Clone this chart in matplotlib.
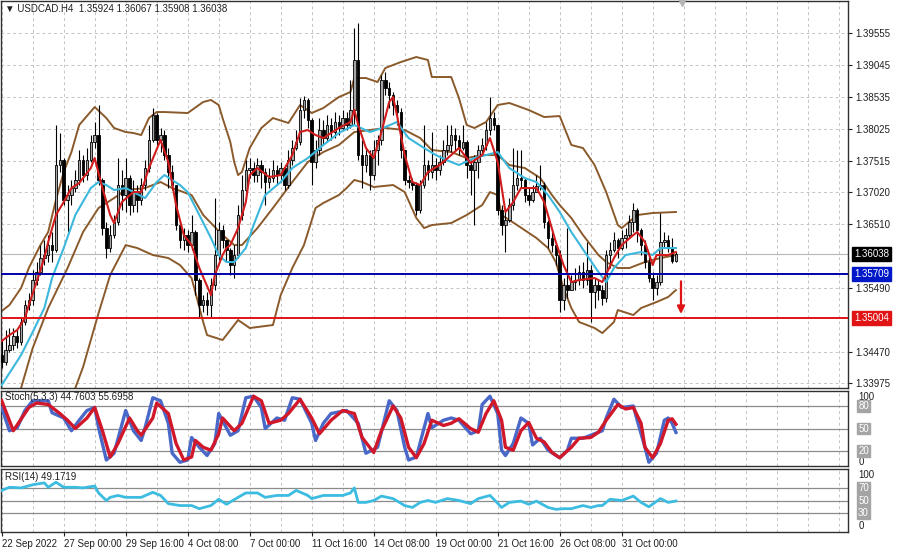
import matplotlib.pyplot as plt

plt.rcParams['font.family'] = ['Liberation Sans', 'DejaVu Sans']

# USDCAD H4 candles, bar 0 = 22 Sep 2022 08:00
closes = [
    1.34309, 1.34500, 1.34580, 1.34723, 1.34628, 1.34947, 1.35218, 1.35298, 1.35616, 1.35744,
    1.35967, 1.36015, 1.36174, 1.36095, 1.37450, 1.37530, 1.36892, 1.36971, 1.37083, 1.37211,
    1.37530, 1.37290, 1.37530, 1.37817, 1.37928, 1.37211, 1.36445, 1.36126, 1.36334, 1.36541,
    1.37131, 1.36971, 1.37242, 1.36812, 1.37019, 1.36892, 1.37131, 1.37402, 1.37849, 1.38247,
    1.37849, 1.37928, 1.37609, 1.37338, 1.37131, 1.36493, 1.36254, 1.36334, 1.36174, 1.36382,
    1.35616, 1.35218, 1.35298, 1.35218, 1.35536, 1.36015, 1.36414, 1.36254, 1.36095, 1.35855,
    1.36015, 1.36653, 1.37051, 1.37370, 1.37402, 1.37290, 1.37450, 1.37338, 1.37179, 1.37242,
    1.37370, 1.37290, 1.37402, 1.37131, 1.37530, 1.37721, 1.37817, 1.38327, 1.38487, 1.38168,
    1.37498, 1.37689, 1.38008, 1.37880, 1.38088, 1.37976, 1.38136, 1.38040, 1.38199, 1.38088,
    1.38327, 1.39124, 1.37609, 1.37450, 1.37609, 1.37290, 1.37689, 1.37849, 1.38805, 1.38677,
    1.38566, 1.38407, 1.38295, 1.37689, 1.37211, 1.37179, 1.37131, 1.36733, 1.37131, 1.37450,
    1.37338, 1.37450, 1.37370, 1.37498, 1.37689, 1.37769, 1.37928, 1.37849, 1.37721, 1.37817,
    1.37450, 1.37370, 1.37498, 1.37689, 1.37769, 1.38008, 1.38199, 1.38088, 1.36733, 1.36493,
    1.36573, 1.36812, 1.37131, 1.37242, 1.37211, 1.36971, 1.36892, 1.37019, 1.37115, 1.37131,
    1.36541, 1.36286, 1.36174, 1.36015, 1.35298, 1.35536, 1.35457, 1.35584, 1.35616, 1.35744,
    1.35616, 1.35776, 1.35425, 1.35536, 1.35457, 1.35329, 1.36015, 1.36095, 1.36254, 1.36126,
    1.36286, 1.36334, 1.36541, 1.36733, 1.36414, 1.36174, 1.35903, 1.35648, 1.35489, 1.35584,
    1.36222, 1.36254, 1.36126, 1.35924, 1.36038,
]
highs = [
    1.34660, 1.34819, 1.34851, 1.34851, 1.34819, 1.35010, 1.35298, 1.35409, 1.35776, 1.35903,
    1.36174, 1.36254, 1.36334, 1.36382, 1.38088, 1.37960, 1.37561, 1.37131, 1.37211, 1.37370,
    1.37689, 1.37609, 1.37721, 1.37928, 1.38136, 1.38407, 1.37242, 1.36541, 1.36493, 1.36653,
    1.37561, 1.37370, 1.37561, 1.37290, 1.37211, 1.37131, 1.37242, 1.37530, 1.38088, 1.38359,
    1.38279, 1.38040, 1.38008, 1.37721, 1.37450, 1.37131, 1.36541, 1.36445, 1.36414, 1.36653,
    1.36414, 1.35648, 1.35377, 1.35425, 1.35648, 1.36923, 1.36541, 1.36493, 1.36254, 1.36126,
    1.36174, 1.36812, 1.37290, 1.37530, 1.37561, 1.37498, 1.37561, 1.37530, 1.37402, 1.37402,
    1.37530, 1.37450, 1.37498, 1.37450, 1.37689, 1.37849, 1.38008, 1.38518, 1.38550, 1.38518,
    1.38199, 1.37849, 1.38199, 1.38168, 1.38247, 1.38199, 1.38295, 1.38247, 1.38327, 1.38295,
    1.38805, 1.39634, 1.39714, 1.37849, 1.37721, 1.37689, 1.37849, 1.37928, 1.38885, 1.38933,
    1.38773, 1.38614, 1.38487, 1.38359, 1.37689, 1.37290, 1.37242, 1.37179, 1.37211, 1.38088,
    1.37530, 1.37976, 1.37561, 1.37609, 1.37849, 1.38088, 1.38088, 1.38040, 1.37928, 1.38088,
    1.37849, 1.37530, 1.37609, 1.37769, 1.37880, 1.38136, 1.38534, 1.38295, 1.38088, 1.36812,
    1.36701, 1.36923, 1.37721, 1.37689, 1.37689, 1.37242, 1.37083, 1.37131, 1.37290, 1.37450,
    1.37179, 1.36573, 1.36382, 1.36174, 1.36095, 1.35648, 1.36445, 1.35696, 1.35808, 1.35855,
    1.35903, 1.36222, 1.35855, 1.35648, 1.35616, 1.35536, 1.36095, 1.36222, 1.36382, 1.36286,
    1.36414, 1.36445, 1.36653, 1.36844, 1.36765, 1.36445, 1.36254, 1.36015, 1.35744, 1.35696,
    1.36685, 1.36382, 1.36334, 1.36286, 1.36067,
]
lows = [
    1.34213, 1.34261, 1.34468, 1.34500, 1.34532, 1.34580, 1.34899, 1.35138, 1.35218, 1.35536,
    1.35696, 1.35855, 1.35903, 1.35903, 1.36063, 1.37338, 1.36812, 1.36382, 1.36812, 1.37019,
    1.37131, 1.37179, 1.37211, 1.37498, 1.37721, 1.37131, 1.36334, 1.35967, 1.36063, 1.36286,
    1.36493, 1.36733, 1.36701, 1.36653, 1.36701, 1.36701, 1.36812, 1.37051, 1.37338, 1.37817,
    1.37769, 1.37657, 1.37530, 1.37083, 1.37051, 1.36414, 1.36126, 1.36095, 1.36063, 1.36095,
    1.35377, 1.35026, 1.35106, 1.35058, 1.35026, 1.35457, 1.35935, 1.36126, 1.35903, 1.35696,
    1.35648, 1.35967, 1.36573, 1.36971, 1.37242, 1.37179, 1.37179, 1.37083, 1.36812, 1.37083,
    1.37179, 1.37131, 1.37179, 1.37051, 1.37083, 1.37450, 1.37689, 1.37769, 1.38199, 1.38040,
    1.37131, 1.37402, 1.37609, 1.37769, 1.37817, 1.37849, 1.37880, 1.37928, 1.38008, 1.38008,
    1.38040, 1.38088, 1.37530, 1.37083, 1.37338, 1.37051, 1.37211, 1.37450, 1.37769, 1.38566,
    1.38359, 1.38247, 1.38088, 1.37561, 1.37131, 1.37083, 1.37051, 1.36653, 1.36685, 1.37083,
    1.37211, 1.37242, 1.37211, 1.37290, 1.37450, 1.37609, 1.37657, 1.37689, 1.37609, 1.37689,
    1.37242, 1.36971, 1.36493, 1.37242, 1.37609, 1.37689, 1.37928, 1.38008, 1.36653, 1.36334,
    1.36063, 1.36541, 1.36733, 1.37051, 1.37083, 1.36860, 1.36812, 1.36860, 1.37019, 1.37051,
    1.36445, 1.36126, 1.36063, 1.35855, 1.35106, 1.35138, 1.35329, 1.35457, 1.35457, 1.35536,
    1.35489, 1.35536, 1.34947, 1.35170, 1.35298, 1.35218, 1.35266, 1.35808, 1.36063, 1.35967,
    1.36095, 1.36126, 1.36286, 1.36382, 1.36222, 1.36015, 1.35808, 1.35584, 1.35298, 1.35377,
    1.35536, 1.36126, 1.36063, 1.35887, 1.35908,
]
first_open = 1.34420
opens = [first_open] + closes[:-1]

# Bollinger bands (brown)
bb_up_bars = [0, 2, 5, 7, 10, 12, 14, 16, 18, 20, 24, 27, 29, 32, 34, 36, 38, 40, 42, 48,
              52, 54, 56, 57, 58, 59, 60, 61, 62, 64, 67, 70, 74, 77, 80, 83, 87, 90, 91, 94,
              97, 99, 103, 107, 110, 111, 116, 118, 120, 122, 125, 128, 131, 136, 140, 144,
              147, 150, 153, 156, 159, 160, 164, 168, 174]
bb_up = [1.35122, 1.35218, 1.35489, 1.35808, 1.36174, 1.36382, 1.36892, 1.37338, 1.37657, 1.38088,
         1.38375, 1.38199, 1.38040, 1.37976, 1.37960, 1.37928, 1.38199, 1.38295, 1.38295, 1.38279,
         1.38455, 1.38487, 1.38407, 1.38199, 1.38008, 1.37817, 1.37498, 1.37290, 1.37338, 1.37721,
         1.38040, 1.38199, 1.38120, 1.38407, 1.38279, 1.38359, 1.38534, 1.38614, 1.38837, 1.38837,
         1.38773, 1.38997, 1.39092, 1.39172, 1.39124, 1.38853, 1.38853, 1.38518, 1.38088, 1.38040,
         1.38136, 1.38407, 1.38439, 1.38327, 1.38215, 1.38231, 1.37769, 1.37721, 1.37450, 1.37019,
         1.36493, 1.36445, 1.36653, 1.36685, 1.36701]
bb_mid_bars = [5, 8, 12, 17, 21, 25, 29, 32, 37, 41, 44, 49, 52, 57, 60, 62, 66, 70, 75, 79,
               83, 87, 91, 95, 99, 104, 108, 111, 116, 120, 124, 128, 131, 135, 139, 142, 144,
               147, 150, 154, 156, 159, 162, 166, 170, 174]
bb_mid = [1.33894, 1.34532, 1.35170, 1.35808, 1.36382, 1.36765, 1.36923, 1.37051, 1.37083, 1.37179,
          1.37083, 1.36971, 1.36653, 1.36334, 1.36174, 1.36174, 1.36445, 1.36765, 1.37179, 1.37498,
          1.37657, 1.37769, 1.37976, 1.38008, 1.38040, 1.38008, 1.37880, 1.37689, 1.37657, 1.37561,
          1.37609, 1.37609, 1.37450, 1.37402, 1.37242, 1.36971, 1.36812, 1.36605, 1.36334, 1.36015,
          1.35903, 1.35808, 1.35808, 1.35903, 1.35967, 1.36015]
bb_low_bars = [19, 21, 25, 28, 32, 35, 39, 43, 46, 49, 52, 53, 57, 60, 61, 64, 70, 72, 75, 78,
               81, 83, 87, 89, 91, 93, 96, 101, 104, 107, 109, 111, 116, 120, 124, 126, 128, 129,
               133, 138, 141, 143, 145, 147, 149, 153, 155, 158, 159, 163, 165, 169, 172, 174]
bb_low = [1.33894, 1.34229, 1.35090, 1.35696, 1.36174, 1.36126, 1.36015, 1.35967, 1.35855, 1.35648,
          1.34947, 1.34739, 1.34660, 1.34899, 1.34979, 1.34851, 1.34899, 1.35377, 1.35808, 1.36174,
          1.36765, 1.36844, 1.36971, 1.37083, 1.37211, 1.37179, 1.37099, 1.37131, 1.37019, 1.36605,
          1.36445, 1.36493, 1.36525, 1.36653, 1.36812, 1.37019, 1.36971, 1.36653, 1.36493, 1.36286,
          1.36126, 1.35903, 1.35489, 1.35170, 1.34947, 1.34851, 1.34771, 1.34947, 1.35138, 1.35058,
          1.35170, 1.35266, 1.35346, 1.35457]

# moving averages
ma_fast_bars = [0, 2, 4, 6, 7, 9, 11, 12, 14, 16, 18, 20, 21, 23, 24, 26, 28, 29, 31, 34,
                36, 38, 41, 43, 45, 47, 49, 51, 54, 55, 57, 58, 59, 61, 63, 64, 66, 69, 72, 75,
                77, 79, 81, 83, 87, 90, 91, 92, 94, 96, 98, 100, 101, 102, 104, 106, 108, 110,
                113, 116, 118, 121, 124, 126, 128, 130, 132, 134, 138, 140, 143, 145, 147, 149,
                153, 155, 158, 160, 163, 164, 166, 168, 169, 172, 174]
ma_fast = [1.34644, 1.34739, 1.34819, 1.35010, 1.35218, 1.35584, 1.35967, 1.36222, 1.36653, 1.36860,
           1.37083, 1.37163, 1.37242, 1.37402, 1.37561, 1.37083, 1.36653, 1.36525, 1.36860, 1.37019,
           1.37019, 1.37402, 1.37849, 1.37498, 1.36812, 1.36334, 1.36174, 1.35808, 1.35377, 1.35696,
           1.36015, 1.36126, 1.36174, 1.36445, 1.36860, 1.37290, 1.37402, 1.37258, 1.37290, 1.37609,
           1.37976, 1.38008, 1.37928, 1.37880, 1.38040, 1.38136, 1.38327, 1.38088, 1.37721, 1.37561,
           1.37976, 1.38455, 1.38534, 1.38247, 1.37609, 1.37179, 1.37131, 1.37338, 1.37450, 1.37609,
           1.37721, 1.37482, 1.37609, 1.37880, 1.37498, 1.36701, 1.36860, 1.37083, 1.37083, 1.36860,
           1.36222, 1.35855, 1.35584, 1.35616, 1.35648, 1.35584, 1.35967, 1.36174, 1.36334, 1.36382,
           1.36222, 1.35855, 1.36015, 1.36015, 1.36063]
ma_slow_bars = [0, 5, 8, 11, 13, 16, 19, 23, 25, 27, 29, 32, 34, 37, 40, 42, 46, 48, 51, 54,
                56, 58, 60, 63, 65, 68, 72, 75, 79, 83, 87, 91, 95, 99, 102, 105, 109, 112, 116,
                118, 122, 125, 128, 131, 135, 138, 141, 144, 147, 151, 154, 156, 158, 161, 165,
                168, 170, 174]
ma_slow = [1.33942, 1.34420, 1.34787, 1.35170, 1.35648, 1.36126, 1.36653, 1.37083, 1.37179, 1.37131,
           1.37051, 1.37083, 1.37019, 1.36923, 1.37179, 1.37290, 1.37131, 1.37019, 1.36653, 1.36286,
           1.36015, 1.35903, 1.35903, 1.36126, 1.36493, 1.36971, 1.37179, 1.37402, 1.37561, 1.37769,
           1.37960, 1.38088, 1.37976, 1.38056, 1.38136, 1.37880, 1.37721, 1.37609, 1.37498, 1.37450,
           1.37561, 1.37609, 1.37657, 1.37402, 1.37242, 1.37179, 1.36971, 1.36701, 1.36382, 1.36015,
           1.35744, 1.35584, 1.35808, 1.36015, 1.36063, 1.36015, 1.36126, 1.36126]

# Stoch(5,3,3)
stoch_main_bars = [0, 2, 4, 6, 8, 12, 13, 16, 18, 20, 22, 24, 25, 27, 29, 32, 34, 36, 37, 39,
                   41, 43, 44, 46, 48, 49, 51, 53, 55, 56, 59, 61, 63, 65, 67, 68, 71, 73, 75, 77,
                   80, 81, 83, 85, 89, 92, 94, 97, 100, 102, 104, 105, 107, 110, 111, 114, 116,
                   118, 121, 123, 124, 126, 128, 129, 130, 132, 134, 136, 137, 139, 141, 144, 146,
                   147, 150, 153, 155, 156, 158, 160, 163, 164, 166, 167, 169, 171, 172, 173, 174]
stoch_main = [78, 47, 51, 74, 87, 87, 71, 64, 47, 61, 74, 78, 51, 8, 17, 74, 47, 34, 51, 91,
              87, 57, 17, 5, 8, 38, 25, 14, 30, 70, 41, 47, 91, 93, 78, 50, 64, 61, 91, 89,
              57, 34, 57, 70, 74, 57, 17, 25, 87, 74, 25, 8, 12, 70, 51, 61, 64, 61, 43, 47,
              82, 93, 70, 21, 14, 30, 64, 57, 28, 37, 21, 11, 21, 37, 37, 43, 47, 64, 89, 78,
              80, 61, 25, 5, 17, 61, 64, 57, 44.76]
stoch_sig_bars = [0, 3, 7, 9, 12, 15, 17, 19, 22, 24, 26, 28, 30, 33, 35, 36, 39, 40, 43, 45,
                  47, 49, 50, 52, 54, 56, 57, 60, 62, 65, 67, 69, 72, 74, 77, 80, 82, 85, 88, 91,
                  93, 96, 98, 101, 103, 105, 107, 109, 111, 114, 116, 118, 121, 123, 125, 127,
                  129, 130, 132, 134, 136, 138, 140, 142, 144, 147, 149, 152, 154, 156, 159, 161,
                  163, 165, 166, 168, 170, 172, 173, 174]
stoch_sig = [87, 47, 78, 84, 82, 70, 61, 50, 64, 78, 47, 12, 30, 64, 47, 41, 64, 84, 70, 30,
             8, 12, 34, 25, 21, 43, 64, 47, 57, 93, 87, 57, 61, 70, 89, 64, 43, 61, 74, 70,
             38, 18, 47, 80, 64, 25, 11, 30, 61, 54, 57, 63, 50, 45, 70, 87, 61, 25, 21, 47,
             58, 37, 32, 18, 11, 25, 37, 38, 45, 61, 82, 76, 78, 57, 25, 11, 30, 61, 63, 55.70]

# RSI(14)
rsi_bars = [0, 2, 5, 8, 11, 12, 14, 16, 19, 21, 24, 25, 27, 28, 30, 32, 35, 36, 39, 41,
            43, 46, 49, 51, 54, 56, 58, 61, 63, 66, 68, 71, 74, 76, 79, 80, 83, 85, 88, 90,
            91, 92, 94, 96, 98, 101, 104, 106, 108, 110, 112, 115, 118, 121, 123, 126, 127,
            129, 131, 134, 136, 138, 141, 143, 145, 147, 150, 152, 154, 155, 157, 160, 163,
            165, 167, 170, 172, 174]
rsi = [66, 71, 70, 75, 78, 71, 79, 71, 71, 70, 73, 62, 50, 55, 58, 55, 55, 55, 63, 58,
       45, 42, 42, 37, 42, 52, 44, 55, 62, 62, 55, 58, 58, 66, 58, 53, 58, 58, 58, 62,
       70, 47, 47, 50, 57, 53, 42, 39, 47, 50, 47, 53, 50, 45, 53, 58, 52, 39, 47, 49,
       44, 49, 39, 36, 37, 37, 42, 39, 42, 42, 52, 50, 57, 47, 40, 53, 47, 49.17]

price_ticks = [1.39555, 1.39045, 1.38535, 1.38025, 1.37515, 1.37020, 1.36510, 1.35490, 1.34470, 1.33975]
support_blue = 1.35709
support_red = 1.35004
last_price = 1.36038

date_bars = [0, 16, 32, 48, 64, 80, 96, 112, 128, 144, 160]
date_labels = ['22 Sep 2022', '27 Sep 00:00', '29 Sep 16:00', '4 Oct 08:00', '7 Oct 00:00',
               '11 Oct 16:00', '14 Oct 08:00', '19 Oct 00:00', '21 Oct 16:00', '26 Oct 08:00',
               '31 Oct 00:00']

W, H = 900, 553
fig = plt.figure(figsize=(9, 5.53), dpi=100)


def place(x0, y0, x1, y1):
    return [x0 / W, 1 - y1 / H, (x1 - x0) / W, (y1 - y0) / H]


ax = fig.add_axes(place(1, 1, 848, 388))
ax_st = fig.add_axes(place(1, 391, 848, 466))
ax_rsi = fig.add_axes(place(1, 469, 848, 532))

grid_kw = dict(color='#c4c4c4', lw=0.7, ls=(0, (3, 3)), zorder=0)
for a in (ax, ax_st, ax_rsi):
    a.set_xlim(-0.18, 218.4)
    for b in range(0, 219, 8):
        a.axvline(b, **grid_kw)
    for s in a.spines.values():
        s.set_color('#303030')
        s.set_linewidth(1.0)
    a.tick_params(axis='x', bottom=False, labelbottom=False)

# main price panel
ax.set_ylim(1.33895, 1.40065)
for p in price_ticks:
    ax.axhline(p, **grid_kw)
ax.yaxis.tick_right()
ax.set_yticks(price_ticks)
ax.set_yticklabels(['%.5f' % p for p in price_ticks])
ax.tick_params(axis='y', labelsize=7, length=3, pad=2, colors='#202020')

brown = '#8b5a2b'
ax.plot(bb_up_bars, bb_up, color=brown, lw=1.4, zorder=2)
ax.plot(bb_mid_bars, bb_mid, color=brown, lw=1.4, zorder=2)
ax.plot(bb_low_bars, bb_low, color=brown, lw=1.4, zorder=2)

bars = list(range(len(closes)))
ax.vlines(bars, lows, highs, color='black', lw=0.8, zorder=3)
body_low = [min(o, c) for o, c in zip(opens, closes)]
body_h = [max(abs(c - o), 0.00004) for o, c in zip(opens, closes)]
body_col = ['#a6a6a6' if c >= o else 'black' for o, c in zip(opens, closes)]
ax.bar(bars, body_h, bottom=body_low, width=0.62, color=body_col,
       edgecolor='black', linewidth=0.6, zorder=4)

ax.plot(ma_slow_bars, ma_slow, color='#3cb8dc', lw=1.5, zorder=5)
ax.plot(ma_fast_bars, ma_fast, color='#d01c1c', lw=1.5, zorder=6)

ax.axhline(last_price, color='#b8b8b8', lw=0.8, zorder=1)
ax.axhline(support_blue, color='#0000a8', lw=1.4, zorder=7)
ax.axhline(support_red, color='#e01414', lw=1.4, zorder=7)

ytr = ax.get_yaxis_transform()
for val, fc in ((last_price, 'black'), (support_blue, '#0018c8'), (support_red, '#e01414')):
    ax.text(1.007, val, '%.5f' % val, transform=ytr, fontsize=7, color='white',
            va='center', ha='left', clip_on=False, zorder=10,
            bbox=dict(boxstyle='square,pad=0.2', fc=fc, ec=fc))

ax.annotate('', xy=(175.3, 1.35030), xytext=(175.3, 1.35640),
            arrowprops=dict(arrowstyle='-|>', color='#e01414', lw=1.6, mutation_scale=11),
            zorder=8)
ax.plot([175.5], [1.40062], marker='v', ms=7, color='#b4b4b4', clip_on=False, zorder=9)

fig.text(5 / W, 1 - 9 / H, '\u25bc USDCAD.H4  1.35924 1.36067 1.35908 1.36038',
         fontsize=7, va='center', ha='left', color='#202020')

# stochastic panel
ax_st.set_ylim(0, 100)
ax_st.set_yticks([])
for lv in (80, 50, 20):
    ax_st.axhline(lv, color='#8c8c8c', lw=0.9, zorder=1)
ax_st.plot(stoch_main_bars, stoch_main, color='#4a68c8', lw=2.4, zorder=3)
ax_st.plot(stoch_sig_bars, stoch_sig, color='#d0182a', lw=2.4, zorder=4)
fig.text(5 / W, 1 - 397 / H, 'Stoch(5,3,3) 44.7603 55.6958', fontsize=7,
         va='center', ha='left', color='#202020')

# RSI panel
ax_rsi.set_ylim(0, 100)
ax_rsi.set_yticks([])
for lv in (70, 50, 30):
    ax_rsi.axhline(lv, color='#8c8c8c', lw=0.9, zorder=1)
ax_rsi.plot(rsi_bars, rsi, color='#3cbce0', lw=2.0, zorder=3)
fig.text(5 / W, 1 - 477 / H, 'RSI(14) 49.1719', fontsize=7,
         va='center', ha='left', color='#202020')

for a, levels, top_pos, bot_pos in ((ax_st, (80, 50, 20), 92, 5), (ax_rsi, (70, 50, 30), 90, 10)):
    tr = a.get_yaxis_transform()
    a.text(1.012, top_pos, '100', transform=tr, fontsize=7, va='center', ha='left',
           color='#202020', clip_on=False)
    a.text(1.012, bot_pos, '0', transform=tr, fontsize=7, va='center', ha='left',
           color='#202020', clip_on=False)
    for lv in levels:
        a.text(1.012, lv, str(lv), transform=tr, fontsize=7, va='center', ha='left',
               color='white', clip_on=False,
               bbox=dict(boxstyle='square,pad=0.1', fc='#a4a4a4', ec='#a4a4a4'))

ax_rsi.tick_params(axis='x', bottom=True, labelbottom=True, length=3, pad=2,
                   labelsize=7, colors='#202020')
ax_rsi.set_xticks(date_bars)
ax_rsi.set_xticklabels(date_labels)
for lab in ax_rsi.get_xticklabels():
    lab.set_horizontalalignment('left')

fig.savefig('out.png', dpi=100)
